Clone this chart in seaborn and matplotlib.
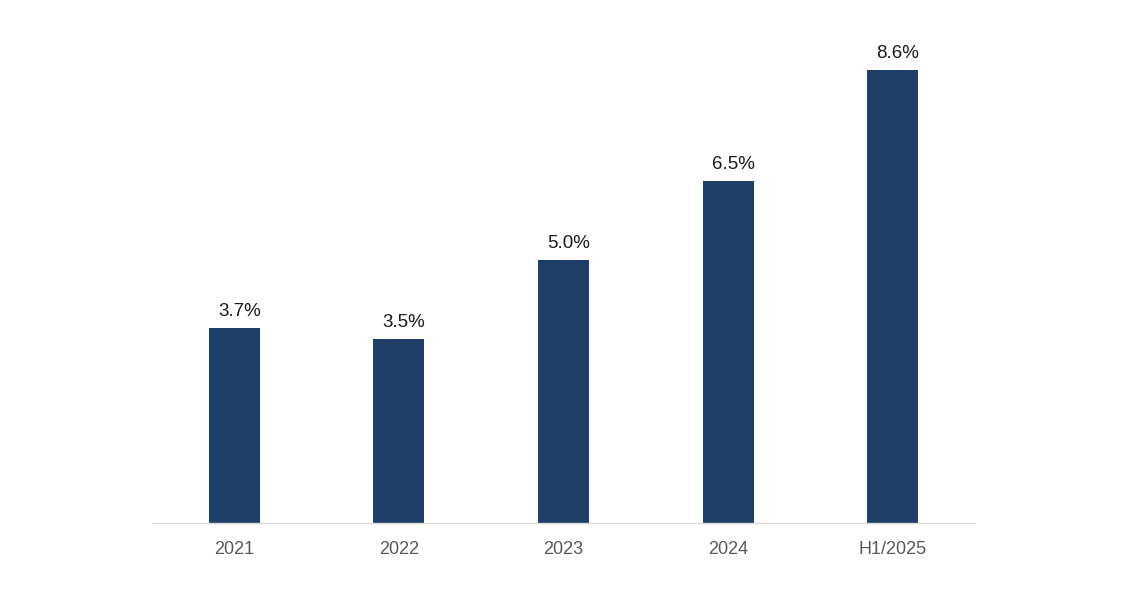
import matplotlib
matplotlib.use("Agg")
import matplotlib.pyplot as plt
import seaborn as sns
import pandas as pd

categories = ["2021", "2022", "2023", "2024", "H1/2025"]
values = [3.7, 3.5, 5.0, 6.5, 8.6]
labels = ["3.7%", "3.5%", "5.0%", "6.5%", "8.6%"]

sns.set_theme(style="white")
plt.rcParams['font.family'] = ['Liberation Sans', 'DejaVu Sans']

df = pd.DataFrame({"cat": categories, "val": values})

fig = plt.figure(figsize=(11.22, 6.14), dpi=100)
ax = fig.add_axes([152/1122, 91/614, 823/1122, 474/614])
sns.barplot(data=df, x="cat", y="val", color="#1f3f68", width=0.31, ax=ax,
            saturation=1, edgecolor="none")

ax.set_xlim(-0.5, 4.5)
ax.set_ylim(0, 9)
for i, (v, t) in enumerate(zip(values, labels)):
    ax.text(i + 0.03, v + 0.15, t, ha="center", va="bottom", fontsize=13.5, color="#1a1a1a")

for s in ["top", "right", "left"]:
    ax.spines[s].set_visible(False)
ax.spines["bottom"].set_color("#d9d9d9")
ax.spines["bottom"].set_linewidth(1)
ax.set_yticks([])
ax.set_xlabel("")
ax.set_ylabel("")
ax.tick_params(axis="x", length=0, pad=13, labelsize=13, labelcolor="#595959")

fig.savefig("out.png", dpi=100)
